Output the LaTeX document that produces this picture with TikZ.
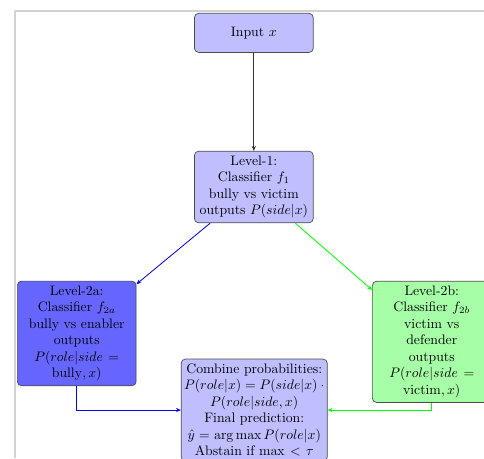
\documentclass[tikz,border=0pt]{standalone}
\usetikzlibrary{arrows.meta}
\begin{document}
\begin{tikzpicture}[
  box/.style={draw=black!70, rounded corners=3pt, align=center, text width=2.8cm, fill=blue!25, line width=0.5pt},
  arr/.style={-{Stealth[length=3.5pt,width=3pt]}, line width=0.6pt}
]
\useasboundingbox (0,0) rectangle (352pt,-333.1pt);
\fill[white] (0,0) rectangle (352pt,-333.1pt);
% screenshot frame
\draw[black!18, line width=1.8pt] (10.8pt,-8pt) -- (352pt,-8pt);
\draw[black!18, line width=1.8pt] (10.8pt,-8pt) -- (10.8pt,-333.1pt);

\node[box, minimum height=1cm] (in) at (184.6pt,-23.9pt) {Input $x$};
\node[box] (l1) at (184.6pt,-136.0pt) {Level-1:\\Classifier $f_1$\\bully vs victim\\outputs $P(side|x)$};
\node[box, fill=blue!60] (l2a) at (55.8pt,-242.5pt) {Level-2a:\\Classifier $f_{2a}$\\bully vs enabler\\outputs\\$P(role|side=$\\$\mathrm{bully},x)$};
\node[box, fill=green!35] (l2b) at (314.0pt,-248.6pt) {Level-2b:\\Classifier $f_{2b}$\\victim vs\\defender\\outputs\\$P(role|side=$\\$\mathrm{victim},x)$};
\node[box, text width=3.6cm, inner xsep=1.9pt] (comb) at (184.9pt,-298.2pt) {Combine probabilities:\\$P(role|x)=P(side|x)\cdot\allowbreak P(role|side,x)$\\Final prediction:\\$\hat{y}=\arg\max P(role|x)$\\Abstain if $\max<\tau$};

\draw[arr, black!80] (in) -- (l1);
\draw[arr, blue] (l1) -- (l2a);
\draw[arr, green] (l1) -- (l2b);
\draw[arr, blue] (l2a.south) |- (comb.west);
\draw[arr, green] (l2b.south) |- (comb.east);
\end{tikzpicture}
\end{document}
